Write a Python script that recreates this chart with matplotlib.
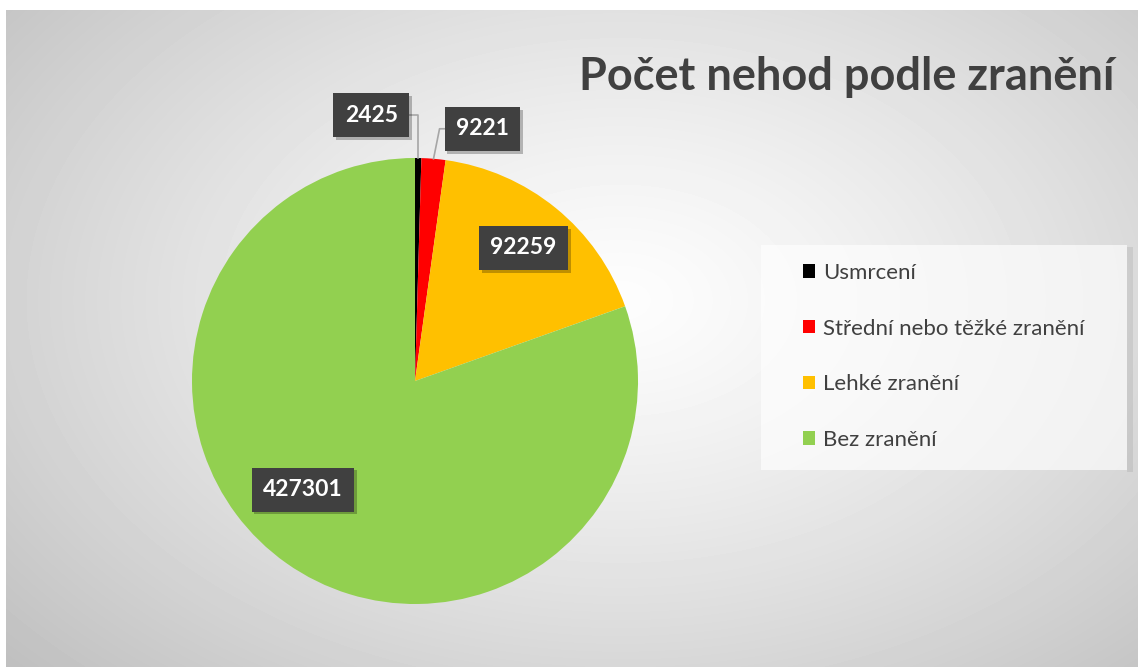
import numpy as np
import matplotlib.pyplot as plt
from matplotlib.patches import Patch, Rectangle
from matplotlib import patheffects as pe

plt.rcParams['font.family'] = ['Lato', 'DejaVu Sans']

# data
categories = ['Usmrcení', 'Střední nebo těžké zranění', 'Lehké zranění', 'Bez zranění']
values = [2425, 9221, 92259, 427301]
colors = ['#000000', '#FF0000', '#FFC000', '#92D050']
title = 'Počet nehod podle zranění'

W, H = 1138, 667
fig = plt.figure(figsize=(W / 100, H / 100), dpi=100)
fig.patch.set_facecolor('white')

# radial gradient background of the chart area
x0, y0 = 6, 10
bg = fig.add_axes([x0 / W, 0, 1 - x0 / W, 1 - y0 / H])
bg.set_axis_off()
yy, xx = np.mgrid[0:H - y0, 0:W - x0]
cx, cy = 620 - x0, 300 - y0
d = np.sqrt(((xx - cx) / 640.0) ** 2 + ((yy - cy) / 420.0) ** 2)
d = d / d.max()
gray = (253 - 62 * d ** 1.25) / 255.0
bg.imshow(gray, cmap='gray', vmin=0, vmax=1, aspect='auto', interpolation='bilinear')

# main axes in pixel units (y up)
ax = fig.add_axes([0, 0, 1, 1])
ax.patch.set_alpha(0)
cen = (415, H - 381)
R = 223
wedges, _ = ax.pie(values, colors=colors, startangle=90, counterclock=False,
                   center=cen, radius=R, wedgeprops=dict(linewidth=0))
ax.set_xlim(0, W)
ax.set_ylim(0, H)
ax.set_axis_off()

box = dict(boxstyle='square,pad=0.5', fc='#404040', ec='none')
shadow = [pe.SimplePatchShadow(offset=(2, -2), shadow_rgbFace='k', alpha=0.25), pe.Normal()]
lab_font = dict(ha='center', va='center', color='white', fontsize=16.5,
                fontweight='bold', bbox=box, zorder=5)


def edge_point(w, frac, r=1.0):
    a = np.deg2rad(w.theta1 + (w.theta2 - w.theta1) * frac)
    return cen[0] + r * R * np.cos(a), cen[1] + r * R * np.sin(a)


lead = '#a6a6a6'
# small slices: labels outside with leader lines
px, py = edge_point(wedges[0], 0.5)
tx, ty = px - 47, py + 43
ax.plot([px, px, tx], [py, ty, ty], color=lead, lw=1.2, zorder=3)
t = ax.text(tx, ty, str(values[0]), **lab_font)
t.get_bbox_patch().set_path_effects(shadow)

px, py = edge_point(wedges[1], 0.5)
tx, ty = px + 49, py + 30
ax.plot([px, px + 6, tx], [py, ty, ty], color=lead, lw=1.2, zorder=3)
t = ax.text(tx, ty, str(values[1]), **lab_font)
t.get_bbox_patch().set_path_effects(shadow)

# large slices: labels inside
for w, v, frac, dist in zip(wedges[2:], values[2:], [0.5, 0.463], [0.77, 0.70]):
    lx, ly = edge_point(w, frac, dist)
    t = ax.text(lx, ly, str(v), **lab_font)
    t.get_bbox_patch().set_path_effects(shadow)

# title
ax.text(847, H - 90, title, ha='center', va='baseline', fontsize=32.5,
        fontweight='bold', color='#404040')

# legend
ax.add_patch(Rectangle((761, H - 470), 366, 225, fc='white', ec='none', alpha=0.65, zorder=2))
ax.add_patch(Rectangle((1127, H - 472), 6, 225, fc='black', ec='none', alpha=0.07, zorder=2))
handles = [Patch(fc=c, ec='none') for c in colors]
leg = ax.legend(handles, categories, loc='upper left', frameon=False,
                bbox_to_anchor=(803 / W, (H - 263) / H), bbox_transform=fig.transFigure,
                fontsize=16, handlelength=0.55, handleheight=0.55, handletextpad=0.35,
                labelspacing=1.6, borderpad=0, borderaxespad=0, labelcolor='#404040')
leg.set_zorder(6)

fig.savefig('out.png', dpi=100, facecolor='white')
